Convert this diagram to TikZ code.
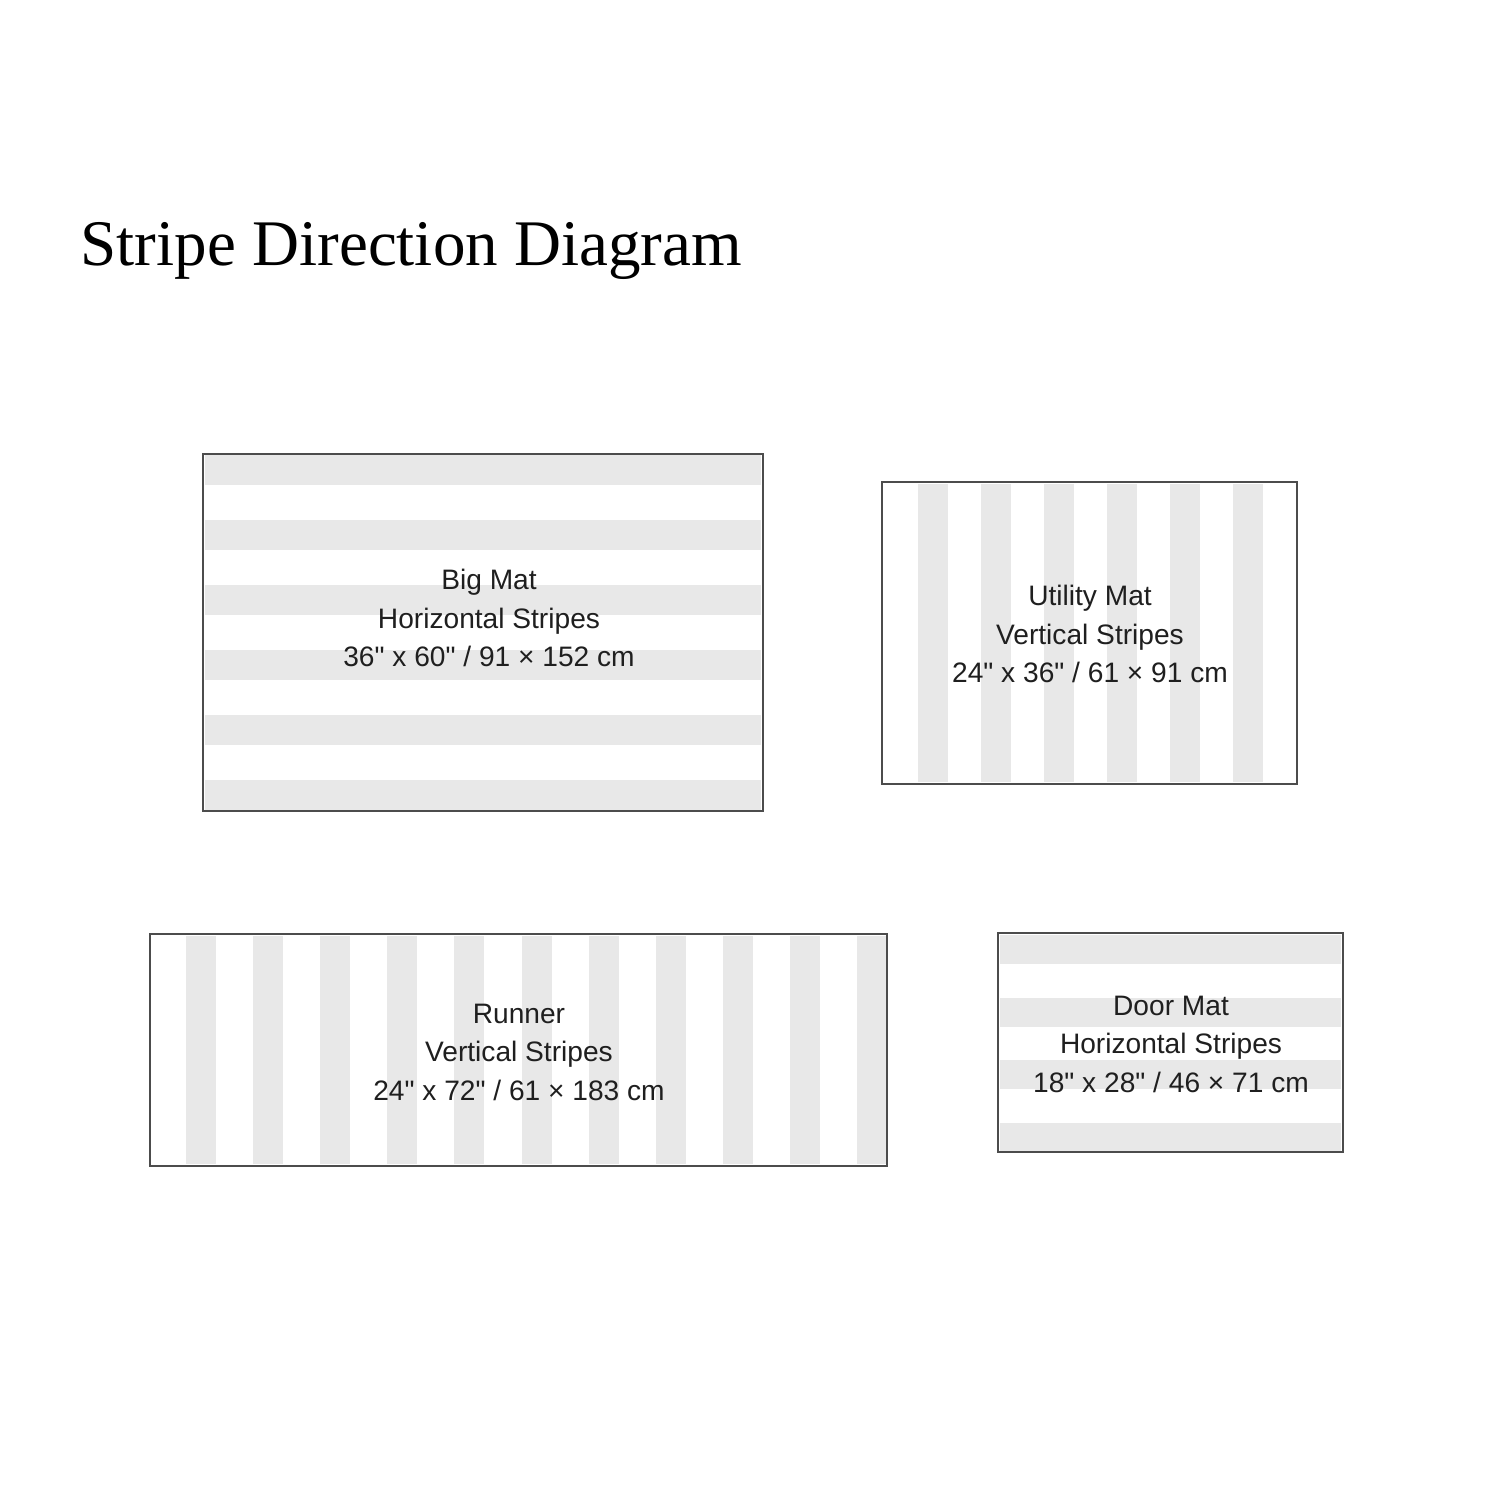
\documentclass[tikz,border=0pt]{standalone}
\usepackage{fontspec}
\newfontfamily\titlefont{Liberation Serif}
\newfontfamily\matfont{Liberation Sans}
\tikzset{stripe/.style = {fill=black!9},
         matframe/.style = {draw=black!70, line width=0.6pt},
         matlabel/.style = {font=\matfont\fontsize{8}{10.95}\selectfont, align=center, text=black!88}}

\begin{document}
\begin{tikzpicture}[x=0.01cm, y=-0.01cm]
      \useasboundingbox [fill=white] (0, 0) rectangle (1500, 1500);
      \node [anchor=base west, inner sep=0pt, font=\titlefont\fontsize{18.5}{22}\selectfont] (title) at (80, 265) {Stripe Direction Diagram};
      \foreach \y in {0,...,5}{
      \fill [stripe] (205, 455+65*\y) rectangle (761, 485+65*\y);}
      \draw [matframe] (203, 454) rectangle (763, 811);
      \node [matlabel] (bigmat) at (489, 618) {Big Mat\\Horizontal Stripes\\36" x 60" / 91 × 152 cm};
      \foreach \x in {0,...,5}{
      \fill [stripe] (918+63*\x, 484) rectangle (948+63*\x, 782);}
      \draw [matframe] (882, 482) rectangle (1297, 784);
      \node [matlabel] (utilitymat) at (1090, 634) {Utility Mat\\Vertical Stripes\\24" x 36" / 61 × 91 cm};
      \foreach \x in {0,...,10}{
      \fill [stripe] (186+67.1*\x, 936) rectangle (216+67.1*\x, 1164);}
      \draw [matframe] (150, 934) rectangle (887, 1166);
      \node [matlabel] (runner) at (519, 1052) {Runner\\Vertical Stripes\\24" x 72" / 61 × 183 cm};
      \foreach \y in {0,...,3}{
      \fill [stripe] (1000, 935+62.7*\y) rectangle (1341, 964+62.7*\y);}
      \draw [matframe] (998, 933) rectangle (1343, 1152);
      \node [matlabel] (doormat) at (1171, 1044) {Door Mat\\Horizontal Stripes\\18" x 28" / 46 × 71 cm};
    \end{tikzpicture}
\end{document}
